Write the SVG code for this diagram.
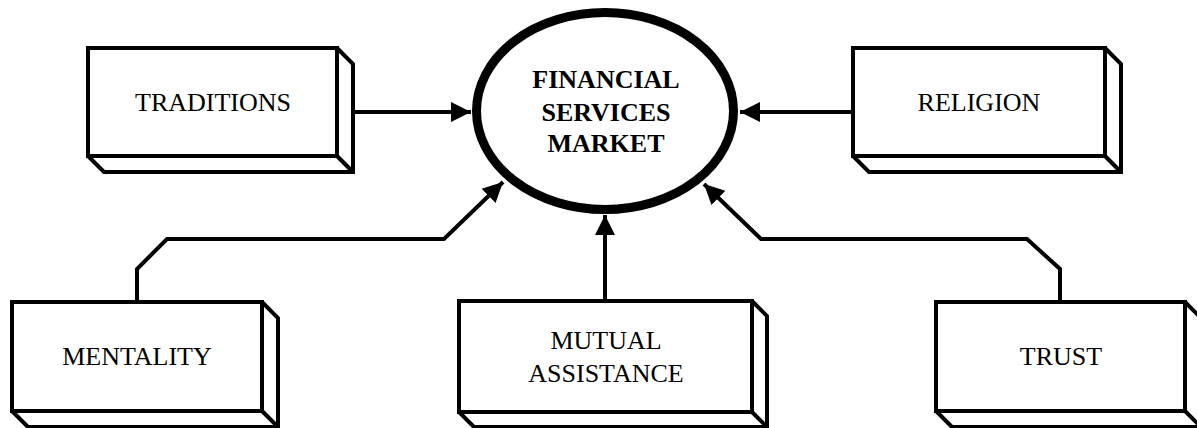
<svg xmlns="http://www.w3.org/2000/svg" width="1197" height="428" viewBox="0 0 1197 428">
<style>
.f{fill:#fff;stroke:#000;stroke-width:4;stroke-linejoin:miter;stroke-miterlimit:2}
.c{fill:none;stroke:#000;stroke-width:4;stroke-linejoin:miter;stroke-miterlimit:3}
.t{font-family:"Liberation Serif","Times New Roman",serif;font-size:26px;fill:#000;text-anchor:middle}
.b{font-weight:bold}
</style>
<defs>
<marker id="ah" markerUnits="userSpaceOnUse" markerWidth="22" markerHeight="22" viewBox="0 0 22 22" refX="20" refY="11" orient="auto">
<path d="M0,1 L20,11 L0,21 Z" fill="#000"/>
</marker>
</defs>
<rect width="1197" height="428" fill="#fff"/>
<g id="connectors">
<path class="c" d="M353,112 L471,112" marker-end="url(#ah)"/>
<path class="c" d="M853,112 L740,112" marker-end="url(#ah)"/>
<path class="c" d="M137,302 L137,269 L167,239 L444,239 L503,182" marker-end="url(#ah)"/>
<path class="c" d="M605,301 L605,215" marker-end="url(#ah)"/>
<path class="c" d="M1060,302 L1060,269 L1027,239 L761,239 L704,184" marker-end="url(#ah)"/>
</g>
<g id="market">
<ellipse cx="605" cy="111" rx="128.5" ry="98.5" fill="#fff" stroke="#000" stroke-width="9"/>
<text class="t b" x="606" y="88">FINANCIAL</text>
<text class="t b" x="606" y="121">SERVICES</text>
<text class="t b" x="606" y="152">MARKET</text>
</g>
<g id="traditions">
<path class="f" d="M337,48 L353,64 L353,172 L104,172 L88,156 L337,156 Z"/>
<path class="c" d="M337,156 L353,172"/>
<rect class="f" x="88" y="48" width="249" height="108"/>
<text class="t" x="213" y="111">TRADITIONS</text>
</g>
<g id="religion">
<path class="f" d="M1105,48 L1121,64 L1121,172 L869,172 L853,156 L1105,156 Z"/>
<path class="c" d="M1105,156 L1121,172"/>
<rect class="f" x="853" y="48" width="252" height="108"/>
<text class="t" x="979" y="111">RELIGION</text>
</g>
<g id="mentality">
<path class="f" d="M262,302 L278,318 L278,427 L28,427 L12,411 L262,411 Z"/>
<path class="c" d="M262,411 L278,427"/>
<rect class="f" x="12" y="302" width="250" height="109"/>
<text class="t" x="137" y="365">MENTALITY</text>
</g>
<g id="mutual">
<path class="f" d="M752,301 L767,316 L767,427 L474,427 L459,412 L752,412 Z"/>
<path class="c" d="M752,412 L767,427"/>
<rect class="f" x="459" y="301" width="293" height="111"/>
<text class="t" x="606" y="349">MUTUAL</text>
<text class="t" x="606" y="382">ASSISTANCE</text>
</g>
<g id="trust">
<path class="f" d="M1185,302 L1201,318 L1201,427 L952,427 L936,411 L1185,411 Z"/>
<path class="c" d="M1185,411 L1201,427"/>
<rect class="f" x="936" y="302" width="249" height="109"/>
<text class="t" x="1061" y="365">TRUST</text>
</g>
</svg>
